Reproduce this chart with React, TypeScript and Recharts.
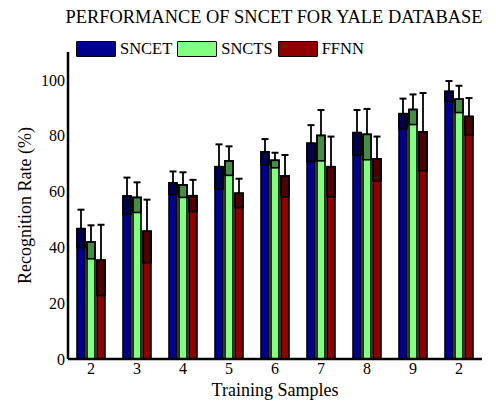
import React from 'react';
import { BarChart, Bar, XAxis, YAxis, Legend } from 'recharts';

const categories = ['2', '3', '4', '5', '6', '7', '8', '9', '2'];
const sncet = [46.7, 58.4, 63.1, 68.9, 74.2, 77.3, 81.1, 87.9, 95.9];
const sncetErr = [6.8, 6.6, 4.1, 8.0, 4.6, 6.5, 8.1, 5.4, 3.7];
const sncts = [41.9, 57.9, 62.4, 71.0, 71.2, 80.1, 80.5, 89.4, 93.1];
const snctsErr = [6.0, 5.4, 4.5, 5.2, 2.7, 9.1, 9.1, 5.4, 4.8];
const ffnn = [35.4, 45.8, 58.5, 59.4, 65.6, 68.9, 71.7, 81.4, 86.9];
const ffnnErr = [12.7, 11.3, 5.7, 5.2, 7.5, 10.8, 8.0, 13.9, 6.6];
const yTicks = [0, 20, 40, 60, 80, 100];

const seriesNames = ['SNCET', 'SNCTS', 'FFNN'];
const colors = ['#00008E', '#82FF80', '#8E0000'];

const data = categories.map((c, i) => ({
  key: `${c}_${i}`,
  label: c,
  v0: sncet[i], e0: sncetErr[i],
  v1: sncts[i], e1: snctsErr[i],
  v2: ffnn[i], e2: ffnnErr[i],
}));

const FONT = "'Liberation Serif', 'Times New Roman', serif";

const makeShape = (vKey: string, eKey: string) => (props: any) => {
  const { x, y, width, height, fill, payload } = props;
  const v = payload[vKey];
  const e = payload[eKey];
  const k = v ? height / v : 0;
  const oh = Math.min(e * k, height);
  const cx = x + width / 2;
  const top = y - e * k;
  return (
    <g>
      <rect x={x} y={y} width={width} height={height} fill={fill} stroke="#000" strokeWidth={1.6} />
      <rect x={x} y={y} width={width} height={oh} fill="#000" fillOpacity={0.45} stroke="#000" strokeWidth={1.6} />
      <line x1={cx} y1={y} x2={cx} y2={top} stroke="#000" strokeWidth={1.8} />
      <line x1={cx - 3.5} y1={top} x2={cx + 3.5} y2={top} stroke="#000" strokeWidth={2} />
    </g>
  );
};

const LegendContent = () => (
  <div style={{ display: 'flex', alignItems: 'center', fontFamily: FONT, fontSize: 16.5, color: '#000', lineHeight: '17px' }}>
    {seriesNames.map((n, i) => (
      <div key={n} style={{ display: 'flex', alignItems: 'center', marginRight: i < 2 ? 5 : 0 }}>
        <div style={{ width: 38, height: 14, background: colors[i], border: '1.7px solid #000', borderRadius: 1, marginRight: 4 }} />
        <span>{n}</span>
      </div>
    ))}
  </div>
);

const tickStyle = { fill: '#000', fontSize: 16, style: { fontFamily: FONT } };

export default function App() {
  return (
    <div style={{ position: 'absolute', left: 0, top: 0, width: 496, height: 401, background: '#fff', fontFamily: FONT }}>
      <BarChart
        width={496}
        height={401}
        data={data}
        margin={{ top: 35, right: 14, bottom: 2, left: 28 }}
        barSize={8}
        barGap={2}
        style={{ fontFamily: FONT }}
      >
        <text x={274} y={23} textAnchor="middle" fontSize={18.4} fill="#000" style={{ fontFamily: FONT }}>
          PERFORMANCE OF SNCET FOR YALE DATABASE
        </text>
        <XAxis
          dataKey="key"
          tickFormatter={(v: string) => v.split('_')[0]}
          axisLine={{ stroke: '#000', strokeWidth: 2.5 }}
          tickLine={false}
          tickSize={0}
          tickMargin={4}
          height={40}
          interval={0}
          tick={tickStyle}
          label={{ value: 'Training Samples', position: 'insideBottom', offset: 3, fill: '#000', fontSize: 18, style: { fontFamily: FONT } }}
        />
        <YAxis
          domain={[0, 110]}
          ticks={yTicks}
          axisLine={{ stroke: '#000', strokeWidth: 2.5 }}
          tickLine={false}
          tickSize={0}
          tickMargin={3}
          width={40}
          tick={tickStyle}
          label={{ value: 'Recognition Rate (%)', angle: -90, position: 'insideLeft', offset: -3, fill: '#000', fontSize: 18, style: { textAnchor: 'middle', fontFamily: FONT } }}
        />
        <Legend
          content={<LegendContent />}
          layout="horizontal"
          verticalAlign="top"
          align="left"
          wrapperStyle={{ position: 'absolute', left: 76, top: 40, width: 'auto' }}
        />
        {[0, 1, 2].map((i) => (
          <Bar
            key={i}
            dataKey={`v${i}`}
            name={seriesNames[i]}
            fill={colors[i]}
            isAnimationActive={false}
            shape={makeShape(`v${i}`, `e${i}`)}
          />
        ))}
      </BarChart>
    </div>
  );
}
